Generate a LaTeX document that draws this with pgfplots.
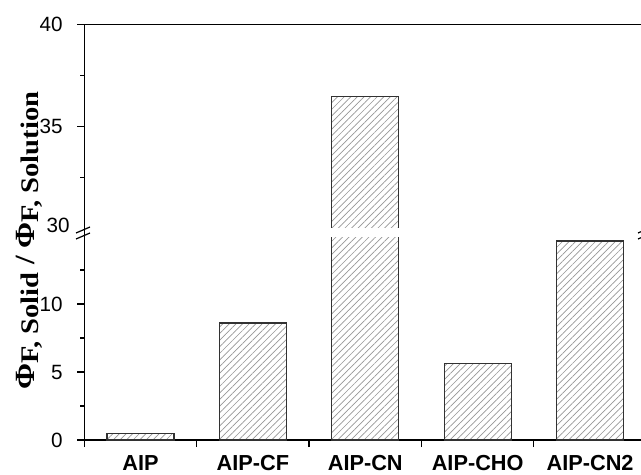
\documentclass[border=0pt]{standalone}
\usepackage{pgfplots}
\pgfplotsset{compat=1.18}
\usetikzlibrary{patterns.meta}
\usepackage{fontspec}
\setmainfont{Liberation Sans}
\newfontfamily\tnr{Liberation Serif}
\definecolor{hatch}{RGB}{150,150,150}
\definecolor{barline}{RGB}{50,50,50}
\pgfplotsset{
 brk/.style={
  scale only axis, width=421.5pt, height=153pt,
  xmin=-0.5, xmax=4.5,
  tick align=outside,
  axis line style={line width=0.9pt},
  every tick/.style={black, line width=0.9pt},
  major tick length=5.25pt, minor tick length=3pt,
  /pgf/number format/assume math mode=true,
  yticklabel style={font=\fontsize{15.5}{18}\selectfont, anchor=east, inner sep=0pt, xshift=-10.7pt},
 },
 hbar/.style={ybar, bar width=0.596, draw=barline, line width=0.9pt,
  pattern={Lines[angle=45,distance=3.5pt,line width=0.5pt]}, pattern color=hatch},
}
\newcommand{\sub}[1]{{\fontsize{20}{24}\selectfont\raisebox{-3.5pt}{#1}}}
\begin{document}
\begin{tikzpicture}
\useasboundingbox (0,0) rectangle (480.75pt,355.5pt);
\clip (0,0) rectangle (480.75pt,355.5pt);
% lower axis
\begin{axis}[brk, at={(63.2pt,25.5pt)}, anchor=south west,
  ymin=0, ymax=15,
  axis x line*=bottom, axis y line*=left,
  ytick={0,5,10}, minor ytick={2.5,7.5,12.5},
  xtick={-0.5,0.5,1.5,2.5,3.5,4.5},
  x tick label as interval,
  xticklabels={\raisebox{-1pt}{AIP},AIP-CF,\raisebox{-0.5pt}{AIP-CN},\raisebox{1.5pt}{AIP-CHO},AIP-CN2},
  xticklabel style={font=\fontsize{16.3}{19}\selectfont\bfseries, anchor=north, inner sep=0pt, yshift=-6pt},
]
\addplot[hbar] coordinates {(0,0.45) (1,8.6) (2,36.46) (3,5.6) (4,14.63)};
\end{axis}
% upper axis
\begin{axis}[brk, at={(63.2pt,184pt)}, anchor=south west,
  ymin=30, ymax=40,
  axis x line*=top, axis y line*=left,
  xtick=\empty,
  ytick={35,40}, minor ytick={32.5,37.5},
  extra y ticks={30}, extra y tick style={major tick length=0pt, yticklabel style={yshift=2.5pt}},
]
\addplot[hbar] coordinates {(2,36.46)};
\end{axis}
% white gap through the broken bar
\fill[white] (246pt,178.05pt) rectangle (302pt,184.45pt);
% axis line across the break
\draw[line width=0.9pt] (63.2pt,178pt) -- (63.2pt,184.5pt);
% break marks
\foreach \x in {57pt,478.5pt}{
  \draw[line width=0.9pt] (\x,180.75pt) -- ++(10.5pt,4.5pt);
  \draw[line width=0.9pt] (\x,176.25pt) -- ++(10.5pt,4.5pt);
}
% y label
\node[rotate=90, inner sep=0pt] at (22pt,175pt)
 {\scalebox{1.07}[0.95]{\tnr\bfseries\fontsize{22}{26}\selectfont Φ\sub{F, Solid} / Φ\sub{F, Solution}}};
\end{tikzpicture}
\end{document}
